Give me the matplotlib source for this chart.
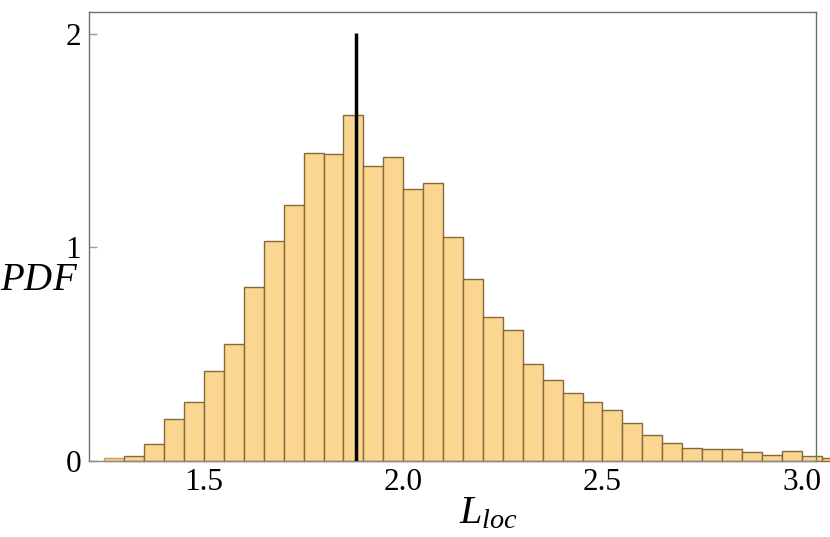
import numpy as np
import matplotlib
matplotlib.use("Agg")
import matplotlib.pyplot as plt

# Histogram data (bin left edges, width 0.05) and PDF heights
bin_start = 1.25
bin_width = 0.05
heights = [0.012, 0.022, 0.078, 0.193, 0.275, 0.420, 0.548, 0.815, 1.031, 1.196,
           1.442, 1.435, 1.621, 1.379, 1.422, 1.272, 1.302, 1.048, 0.849, 0.672,
           0.611, 0.452, 0.377, 0.317, 0.273, 0.236, 0.175, 0.119, 0.081, 0.061,
           0.056, 0.056, 0.042, 0.028, 0.045, 0.020, 0.013]
marker_x = 1.8807
marker_top = 2.005
x_ticks = [1.5, 2.0, 2.5, 3.0]
x_ticklabels = ["1.5", "2.0", "2.5", "3.0"]
y_ticks = [0, 1, 2]
y_ticklabels = ["0", "1", "2"]

plt.rcParams['font.family'] = ['Liberation Serif', 'DejaVu Serif']
plt.rcParams['mathtext.fontset'] = 'custom'
plt.rcParams['mathtext.it'] = 'Liberation Serif:italic'
plt.rcParams['mathtext.rm'] = 'Liberation Serif'

fig = plt.figure(figsize=(8.30, 5.37), dpi=100)
ax = fig.add_axes([89.3 / 830, 1 - 460.7 / 537, (816.3 - 89.3) / 830, (460.7 - 11.7) / 537])

lefts = bin_start + bin_width * np.arange(len(heights))
bars = ax.bar(lefts, heights, width=bin_width, align='edge',
              facecolor='#FBD691', edgecolor='#86693A', linewidth=1.0,
              clip_on=False, zorder=2)
# first bar appears lighter in the reference
bars[0].set_edgecolor('#C9A060')

ax.plot([marker_x, marker_x], [0, marker_top], color='black', lw=2.5,
        solid_capstyle='butt', zorder=4)

ax.set_xlim(1.2122, 3.0365)
ax.set_ylim(0, 2.103)

for s in ax.spines.values():
    s.set_color('#6E6E6E')
    s.set_linewidth(1.0)
ax.spines['bottom'].set_color('#8A8A8A')

ax.set_xticks(x_ticks)
ax.set_xticklabels(x_ticklabels)
ax.set_yticks(y_ticks)
ax.set_yticklabels(y_ticklabels)
ax.tick_params(axis='x', length=0, labelsize=22.5, pad=5)
ax.tick_params(axis='y', direction='in', length=6, color='#9A9A9A', width=1.0,
               labelsize=22.5, pad=6)

fig.text(0.0, 1 - 281 / 537, r'$PDF$', fontsize=28, ha='left', va='center')
fig.text(459 / 830, 1 - 514 / 537, r'$L_{loc}$', fontsize=29, ha='left', va='center')

fig.savefig('out.png', dpi=100)
